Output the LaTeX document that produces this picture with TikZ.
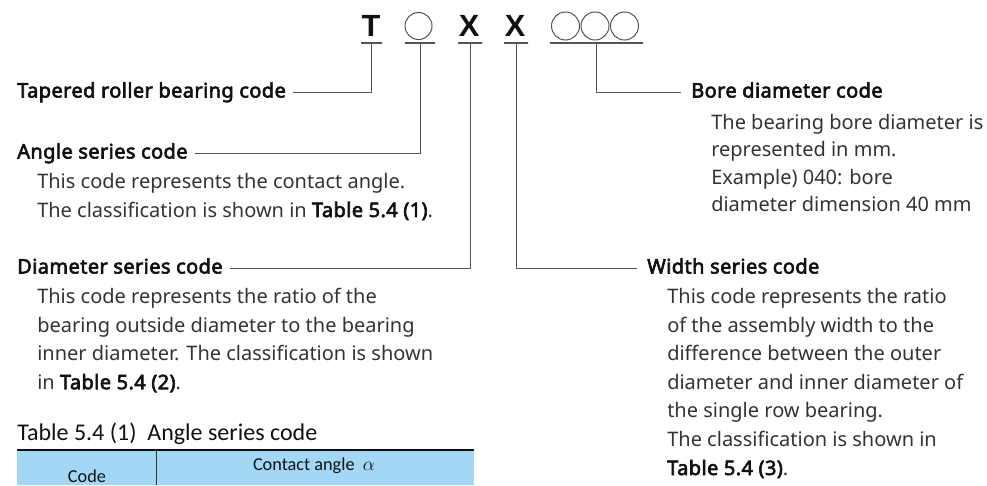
\documentclass[tikz,border=0pt]{standalone}
\usepackage{fontspec}
\setmainfont{Noto Sans}[AutoFakeBold=2.2]
\newfontfamily\headfont{Noto Sans}[FakeBold=3, LetterSpace=2]
\newfontfamily\codefont{Liberation Sans}
\newfontfamily\tabfont{Carlito}
\definecolor{ink}{HTML}{333333}
\definecolor{head}{HTML}{111111}
\definecolor{leadgray}{HTML}{555555}
\definecolor{tabblue}{RGB}{162,216,245}
\tikzstyle{heading}=[anchor=base west, inner sep=0pt, text height=11.25pt, text depth=3pt, font=\headfont\fontsize{15}{18}\selectfont, text=head]
\tikzstyle{body}=[anchor=base west, inner sep=0pt, font=\fontsize{15}{18}\selectfont, text=ink]
\tikzstyle{codech}=[anchor=base, inner sep=0pt, font=\codefont\bfseries\fontsize{23}{23}\selectfont, text=head]
\tikzstyle{ring}=[circle, draw=leadgray, line width=0.75pt, inner sep=0pt]
\tikzstyle{ubar}=[draw=leadgray, line width=0.9pt, inner sep=0pt, minimum height=0pt]
\tikzstyle{lead}=[draw=leadgray, line width=0.75pt]
\tikzstyle{tabtext}=[inner sep=0pt, font=\tabfont\fontsize{13.7}{16}\selectfont, text=head]
\newcommand{\tbl}[1]{{\headfont\color{head}#1}}

\begin{document}
\begin{tikzpicture}[x=0.75pt, y=-0.75pt]
				\useasboundingbox (0,0) rectangle (987,485);
				% code row
				\node[codech] (cT) at (371,37) {T};
				\node[ring, minimum size=20.25pt] (cA) at (418.5,26) {};
				\node[codech] (cD) at (469,37) {X};
				\node[codech] (cW) at (515,37) {X};
				\node[ring, minimum size=21pt] (cB1) at (565.5,26) {};
				\node[ring, minimum size=21pt] (cB2) at (595,26) {};
				\node[ring, minimum size=21pt] (cB3) at (624.5,26) {};
				\node[ubar, minimum width=15.75pt] (uT) at (371.5,43) {};
				\node[ubar, minimum width=22.5pt] (uA) at (420,43) {};
				\node[ubar, minimum width=18pt] (uD) at (470,43) {};
				\node[ubar, minimum width=18pt] (uW) at (516,43) {};
				\node[ubar, minimum width=69.75pt] (uB) at (596.5,43) {};
				% left column
				\node[heading] (tap) at (17,97.5) {Tapered roller bearing code};
				\node[heading] (ang) at (17,158.5) {Angle series code};
				\node[body] (angA) at (37,188.4) {This code represents the contact angle.};
				\node[body] (angB) at (37,217) {The classification is shown in \tbl{Table 5.4 (1)}.};
				\node[heading] (dia) at (17,273.5) {Diameter series code};
				\node[body] (diaA) at (37,303.4) {This code represents the ratio of the};
				\node[body] (diaB) at (37,332) {bearing outside diameter to the bearing};
				\node[body] (diaC) at (37,360.6) {inner diameter. The classification is shown};
				\node[body] (diaD) at (37,389.2) {in \tbl{Table 5.4 (2)}.};
				% right column
				\node[heading] (bore) at (691,97.5) {Bore diameter code};
				\node[body] (boreA) at (711,129) {The bearing bore diameter is};
				\node[body] (boreB) at (711,156.5) {represented in mm.};
				\node[body] (boreC) at (711,184) {Example) 040: bore};
				\node[body] (boreD) at (711,211.5) {diameter dimension 40 mm};
				\node[heading] (wid) at (647,273.5) {Width series code};
				\node[body] (widA) at (667,303.4) {This code represents the ratio};
				\node[body] (widB) at (667,332) {of the assembly width to the};
				\node[body] (widC) at (667,360.6) {difference between the outer};
				\node[body] (widD) at (667,389.2) {diameter and inner diameter of};
				\node[body] (widE) at (667,417.8) {the single row bearing.};
				\node[body] (widF) at (667,446.4) {The classification is shown in};
				\node[body] (widG) at (667,475) {\tbl{Table 5.4 (3)}.};
				% leaders
				\draw[lead, shorten <=5pt] (tap.east) -| (uT.south);
				\draw[lead, shorten <=5pt] (ang.east) -| (uA.south);
				\draw[lead, shorten <=5pt] (dia.east) -| (uD.south);
				\draw[lead, shorten >=7.5pt] (uW.south) |- (wid.west);
				\draw[lead, shorten >=7.5pt] (uB.south) |- (bore.west);
				% table head
				\node[anchor=base west, inner sep=0pt, font=\tabfont\fontsize{18}{20}\selectfont, text=head] (cap) at (17,440) {Table 5.4 (1)\ \ Angle series code};
				\fill[tabblue] (17,451) rectangle (474,485);
				\draw[head, line width=1.5pt] (17,450) -- (474,450);
				\draw[ink, line width=0.75pt] (156,451) -- (156,485);
				\node[tabtext] (tangle) at (314,466) {Contact angle\ \ $\alpha$};
				\node[tabtext] (tcode) at (87,476) {Code};
			\end{tikzpicture}
\end{document}
